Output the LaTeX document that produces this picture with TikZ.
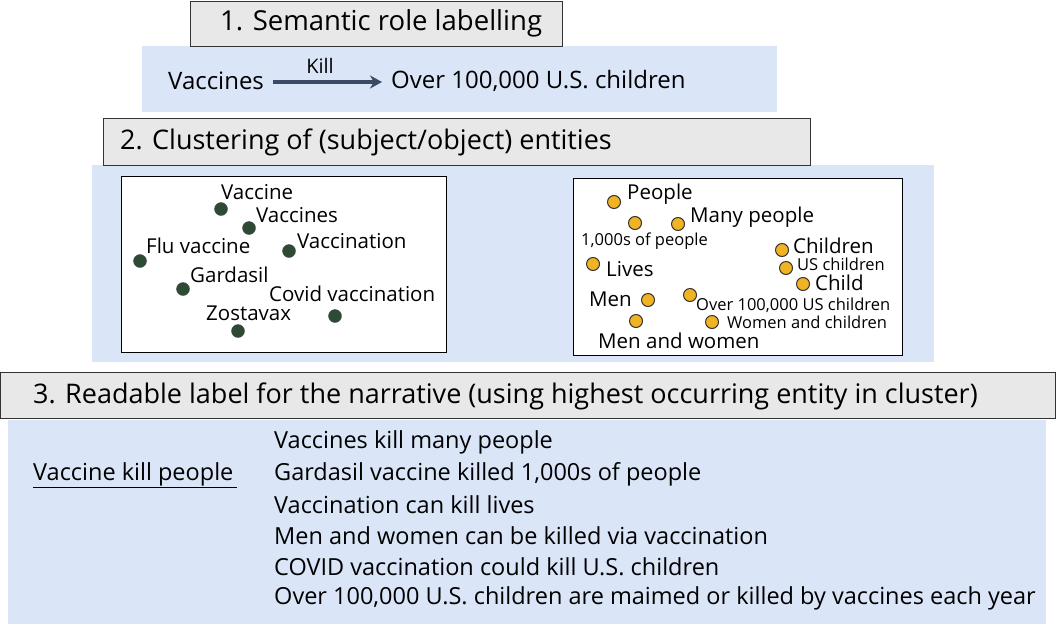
\documentclass[tikz,border=0pt]{standalone}
\usepackage{fontspec}
\setmainfont{Open Sans}
\usetikzlibrary{arrows.meta}
\definecolor{panel}{HTML}{DAE6F8}
\definecolor{hdr}{HTML}{E8E8E8}
\definecolor{dgreen}{HTML}{2D4A35}
\definecolor{ydot}{HTML}{F0B323}
\definecolor{arr}{HTML}{3A4A63}
\newcommand{\fs}[1]{\fontsize{#1}{#1}\selectfont}
\tikzset{
  hbox/.style={draw=black!80,fill=hdr,line width=1pt},
  pbox/.style={fill=panel,draw=none},
  wbox/.style={draw=black,fill=white,line width=1pt},
  lbl/.style={anchor=west,inner sep=0pt,font=\fs{20.5}},
  slbl/.style={anchor=west,inner sep=0pt,font=\fs{16.5}},
  gdot/.style={circle,fill=dgreen,draw=black!70,minimum size=13pt,inner sep=0pt},
  ydt/.style={circle,fill=ydot,draw=black!80,line width=1pt,minimum size=13pt,inner sep=0pt},
  txt/.style={anchor=west,inner sep=0pt,font=\fs{23.5}}
}
\begin{document}
\begin{tikzpicture}[x=1pt,y=-1pt]
\useasboundingbox (0,0) rectangle (1056,624);
% panels
\fill[pbox] (142,46) rectangle (777,112);
\fill[pbox] (92,165) rectangle (934,362);
\fill[pbox] (8,420) rectangle (1046,624);
\draw[hbox] (190,1) rectangle (562,46);
\node[anchor=west,inner sep=0pt,font=\fs{27.5}] (h1) at (220,23) {1. Semantic role labelling};
\draw[hbox] (103,118) rectangle (810,165);
\node[anchor=west,inner sep=0pt,font=\fs{27}] (h2) at (120,142) {2. Clustering of (subject/object) entities};
\draw[hbox] (0.5,372) rectangle (1055.5,418);
\node[anchor=west,inner sep=0pt,font=\fs{27}] (h3) at (33,396) {3. Readable label for the narrative (using highest occurring entity in cluster)};
% SRL
\node[anchor=west,inner sep=0pt,font=\fs{24}] (vac) at (168,81) {Vaccines};
\node[anchor=west,inner sep=0pt,font=\fs{24}] (obj) at (391,81) {Over 100,000 U.S. children};
\coordinate (a1) at (273,82);
\coordinate (a2) at (382,82);
\draw[arr,line width=3.5pt,-{Stealth[length=12pt,width=13pt]}] (a1) -- (a2);
\node[inner sep=0pt,font=\fs{20}] (kill) at (320,66) {Kill};
% left cluster
\draw[wbox] (121,176) rectangle (446,352);
\node[gdot] (d1) at (221,209) {}; \node[lbl] at (221,192) {Vaccine};
\node[gdot] (d2) at (249,228) {}; \node[lbl] at (256,215) {Vaccines};
\node[gdot] (d3) at (140,261) {}; \node[lbl] at (146,246) {Flu vaccine};
\node[gdot] (d4) at (289,251) {}; \node[lbl] at (297,241) {Vaccination};
\node[gdot] (d5) at (183,289) {}; \node[lbl] at (190,275) {Gardasil};
\node[gdot] (d6) at (335,316) {}; \node[lbl] at (269,294) {Covid vaccination};
\node[gdot] (d7) at (238,331) {}; \node[lbl] at (206,313) {Zostavax};
% right cluster
\draw[wbox] (573,178) rectangle (902,355);
\node[ydt] (e1) at (614,202) {}; \node[lbl] at (627,194) {People};
\node[ydt] (e2) at (635,223) {};
\node[ydt] (e3) at (678,224) {}; \node[lbl] at (690,217) {Many people};
\node[slbl] at (581,241) {1,000s of people};
\node[ydt] (e4) at (782,250) {}; \node[lbl] at (793,246) {Children};
\node[ydt] (e5) at (593,264) {}; \node[lbl] at (606,269) {Lives};
\node[ydt] (e6) at (786,268) {}; \node[slbl] at (797,264) {US children};
\node[ydt] (e7) at (803,284) {}; \node[lbl] at (815,283) {Child};
\node[lbl] at (589,299) {Men};
\node[ydt] (e8) at (648,300) {};
\node[ydt] (e9) at (690,295) {}; \node[slbl] at (696,305) {Over 100,000 US children};
\node[ydt] (e10) at (636,321) {};
\node[ydt] (e11) at (712,322) {}; \node[slbl] at (727,322) {Women and children};
\node[lbl] at (598,341) {Men and women};
% narrative
\node[txt] (lab) at (33,474) {Vaccine kill people};
\draw[line width=0.8pt] (33,487) -- (237,487);
\node[txt] at (274,442) {Vaccines kill many people};
\node[txt] at (274,474) {Gardasil vaccine killed 1,000s of people};
\node[txt] at (274,505) {Vaccination can kill lives};
\node[txt] at (274,536) {Men and women can be killed via vaccination};
\node[txt] at (274,567) {COVID vaccination could kill U.S. children};
\node[txt] at (274,598) {Over 100,000 U.S. children are maimed or killed by vaccines each year};
\end{tikzpicture}
\end{document}
